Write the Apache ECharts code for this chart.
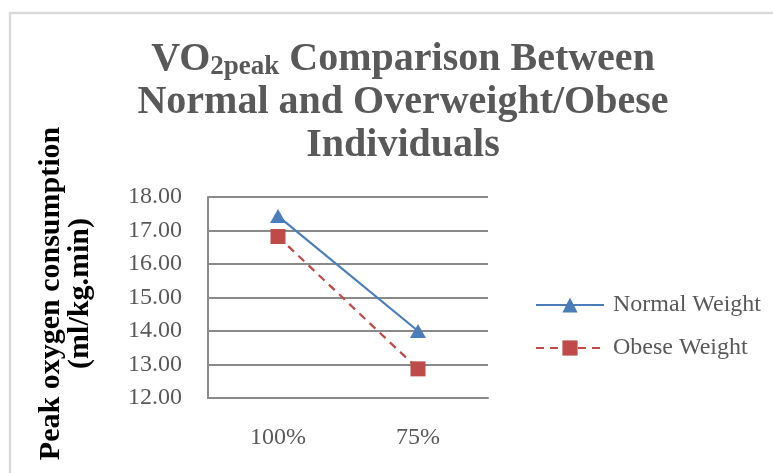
<!DOCTYPE html>
<html>
<head>
<meta charset="utf-8">
<script src="https://cdn.jsdelivr.net/npm/echarts@6/dist/echarts.min.js"></script>
<style>
html,body{margin:0;padding:0;background:#fff;}
#chart{width:773px;height:473px;}
</style>
</head>
<body>
<div id="chart"></div>
<script>
var categories = ['100%', '75%'];
var normalWeight = [17.43, 14.0];
var obeseWeight = [16.82, 12.87];
var seriesNames = ['Normal Weight', 'Obese Weight'];
var yTicks = { min: 12, max: 18, interval: 1 };

var serif = '"Liberation Serif", "DejaVu Serif", serif';
var textGray = '#595959';
var gridGray = '#8a8a8a';

var chart = echarts.init(document.getElementById('chart'), null, { renderer: 'canvas' });
chart.setOption({
  backgroundColor: '#ffffff',
  animation: false,
  graphic: [{
    type: 'rect',
    shape: { x: 10, y: 13, width: 800, height: 500 },
    style: { fill: 'none', stroke: '#d9d9d9', lineWidth: 2.5 },
    silent: true
  }],
  title: {
    left: 398,
    top: 33,
    textAlign: 'center',
    text: '{m|VO}{s|2peak}{m| Comparison Between}\n{m|Normal and Overweight/Obese}\n{m|Individuals}',
    textStyle: {
      rich: {
        m: { fontFamily: serif, fontWeight: 'bold', fontSize: 40, lineHeight: 43, color: textGray },
        s: { fontFamily: serif, fontWeight: 'bold', fontSize: 27, lineHeight: 27, color: textGray, verticalAlign: 'bottom' }
      }
    }
  },
  grid: { left: 208, right: 285, top: 197, bottom: 75 },
  legend: {
    orient: 'vertical',
    left: 530,
    top: 288,
    itemWidth: 68,
    itemHeight: 19,
    itemGap: 19,
    data: seriesNames,
    textStyle: { fontFamily: serif, fontSize: 24, color: textGray, lineHeight: 24, padding: [0, 0, 0, 4] }
  },
  xAxis: {
    type: 'category',
    data: categories,
    boundaryGap: true,
    axisLine: { show: true, lineStyle: { color: gridGray, width: 2 } },
    axisTick: { show: false },
    axisLabel: { fontFamily: serif, fontSize: 24, color: textGray, margin: 28 }
  },
  yAxis: {
    type: 'value',
    min: yTicks.min,
    max: yTicks.max,
    interval: yTicks.interval,
    name: 'Peak oxygen consumption\n(ml/kg.min)',
    nameLocation: 'middle',
    nameRotate: 90,
    nameGap: 113,
    nameTextStyle: { fontFamily: serif, fontWeight: 'bold', fontSize: 30, lineHeight: 29, color: '#000000', padding: [0, 0, 0, 8] },
    axisLine: { show: true, lineStyle: { color: gridGray, width: 2 } },
    axisTick: { show: false },
    splitLine: { show: true, lineStyle: { color: gridGray, width: 2 } },
    axisLabel: {
      fontFamily: serif, fontSize: 24, color: textGray, margin: 26,
      formatter: function (v) { return v.toFixed(2); }
    }
  },
  series: [{
    name: seriesNames[0],
    type: 'line',
    data: normalWeight,
    symbol: 'triangle',
    symbolSize: [16, 14],
    itemStyle: { color: '#4a7ebb' },
    lineStyle: { color: '#4a7ebb', width: 2.25 }
  }, {
    name: seriesNames[1],
    type: 'line',
    data: obeseWeight,
    symbol: 'rect',
    symbolSize: 15,
    itemStyle: { color: '#be4b48' },
    lineStyle: { color: '#be4b48', width: 2.25, type: [8, 6] }
  }]
});
</script>
</body>
</html>
